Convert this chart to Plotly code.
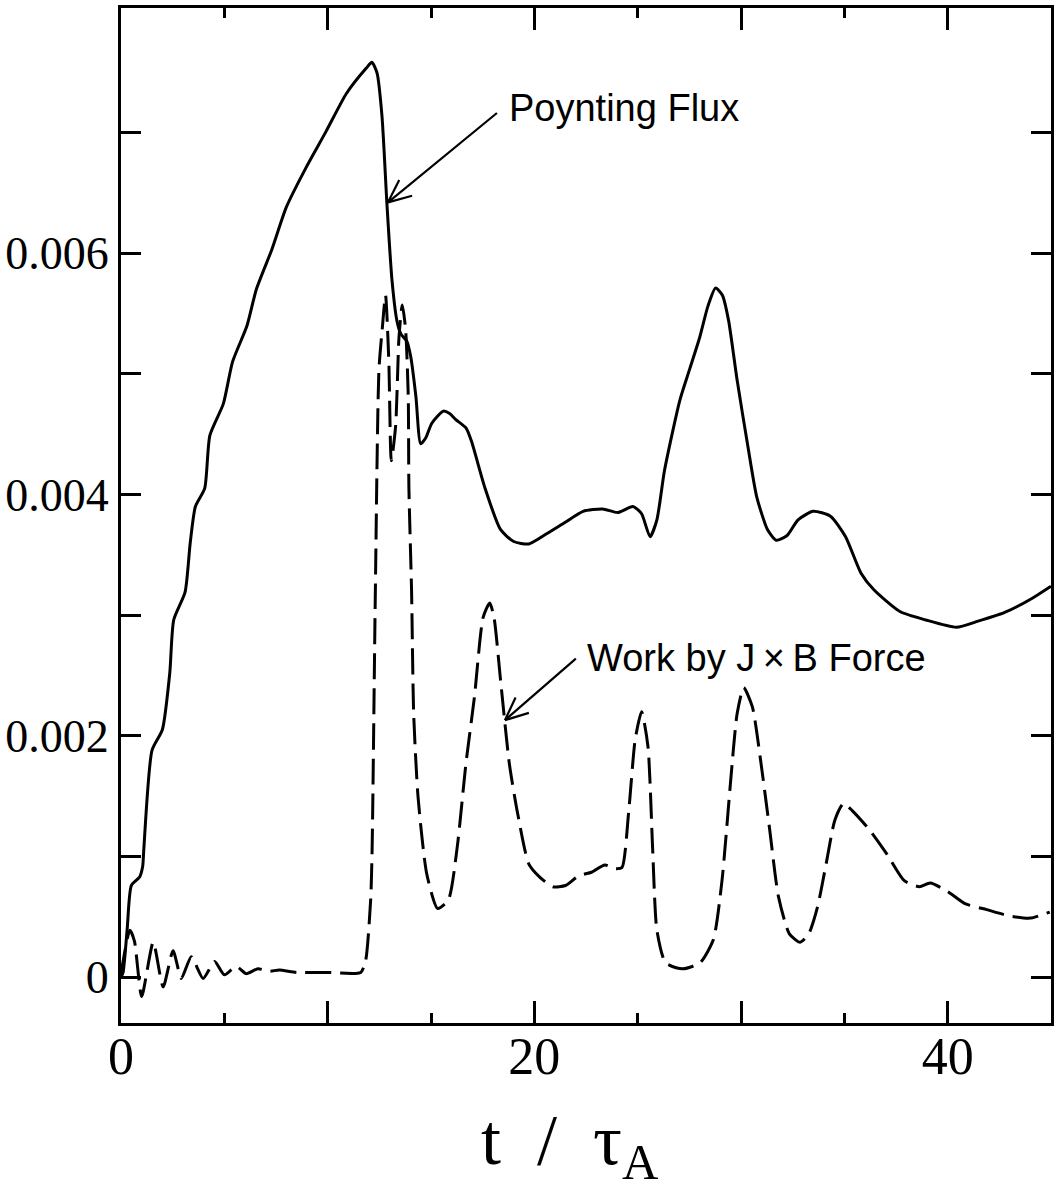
import math
import plotly.graph_objects as go

# ---------------- data ----------------
poynting_t = [0.0, 0.1, 0.3, 0.5, 0.9, 1.05, 1.1, 1.5, 2.0, 2.36, 2.55, 3.1, 3.35, 3.6,
              4.05, 4.3, 4.95, 5.4, 6.1, 6.55, 7.3, 8.0, 8.96, 9.93, 10.9, 11.86, 12.14,
              12.39, 12.63, 12.87, 13.11, 13.35, 13.54, 13.83, 14.02, 14.27, 14.5, 14.75,
              15.04, 15.6, 15.9, 16.2, 16.7, 16.96, 17.6, 18.36, 19.0, 19.73, 20.46, 21.5,
              22.36, 23.3, 24.04, 24.77, 25.19, 25.6, 25.93, 26.3, 27.04, 27.5, 28.0, 28.4,
              28.77, 29.1, 29.4, 29.81, 30.34, 30.76, 31.28, 31.71, 32.23, 32.76, 33.49,
              34.33, 35.06, 35.8, 36.43, 37.69, 38.94, 40.42, 41.47, 42.73, 43.99, 45.0]
poynting_v = [0.0, 0.00004, 0.0004, 0.00076, 0.00083, 0.00092, 0.00105, 0.00188, 0.00205,
              0.00252, 0.00296, 0.00319, 0.0036, 0.0039, 0.00405, 0.00449, 0.00475, 0.0051,
              0.0054, 0.0057, 0.00603, 0.00638, 0.00671, 0.00701, 0.00732, 0.00753, 0.00758,
              0.00749, 0.00713, 0.0064, 0.00578, 0.00544, 0.00533, 0.00527, 0.00514, 0.00481,
              0.00442, 0.00447, 0.00459, 0.00469, 0.00467, 0.00462, 0.00455, 0.00444, 0.00406,
              0.00371, 0.00361, 0.00359, 0.00366, 0.00377, 0.00386, 0.00388, 0.00385, 0.0039,
              0.00384, 0.00365, 0.00379, 0.0042, 0.00478, 0.00503, 0.0053, 0.00556, 0.00571,
              0.00565, 0.00544, 0.00495, 0.00439, 0.00398, 0.00371, 0.00362, 0.00366, 0.00379,
              0.00386, 0.00382, 0.00365, 0.00335, 0.00321, 0.00303, 0.00296, 0.0029, 0.00295,
              0.00302, 0.00313, 0.00324]

work_t = [0.0, 0.43, 0.65, 1.0, 1.56, 2.04, 2.52, 2.92, 3.4, 3.97, 4.53, 5.0, 5.58, 6.06,
          6.62, 7.18, 7.66, 8.5, 10.0, 11.6, 11.84, 12.08, 12.15, 12.3, 12.48, 12.64, 12.8,
          12.96, 13.08, 13.29, 13.45, 13.61, 13.77, 13.9, 13.93, 14.06, 14.16, 14.37, 14.79,
          15.32, 15.84, 16.27, 16.69, 17.1, 17.52, 17.84, 18.05, 18.36, 18.79, 19.2, 19.73,
          20.26, 20.89, 21.51, 22.14, 22.77, 23.41, 23.93, 24.24, 24.56, 24.88, 25.19, 25.5,
          25.72, 25.93, 26.35, 27.18, 28.02, 28.66, 29.08, 29.5, 29.81, 30.13, 30.55, 30.97,
          31.39, 31.81, 32.34, 32.86, 33.28, 33.7, 34.12, 34.54, 34.96, 35.38, 36.22, 37.06,
          37.9, 38.64, 39.16, 40.0, 40.84, 41.89, 42.94, 43.99, 44.94]
work_v = [0.00003, 0.00039, 0.0003, -0.00016, 0.00029, -0.00008, 0.00022, -0.00001, 0.00017,
          -0.00001, 0.00013, 0.00002, 0.00009, 0.00003, 0.00007, 0.00005, 0.00006, 0.00004,
          0.00004, 0.00004, 0.00014, 0.00064, 0.00105, 0.0031, 0.00503, 0.00537, 0.00565,
          0.0051, 0.00428, 0.00457, 0.0053, 0.00557, 0.00537, 0.00481, 0.00406, 0.0032,
          0.00219, 0.0015, 0.00086, 0.00057, 0.00064, 0.00108, 0.00177, 0.00232, 0.00298,
          0.0031, 0.00298, 0.00247, 0.00177, 0.00135, 0.00094, 0.00083, 0.00075, 0.00076,
          0.00084, 0.00087, 0.00093, 0.0009, 0.00091, 0.00136, 0.00197, 0.0022, 0.00191,
          0.00108, 0.00039, 0.00012, 0.00007, 0.00012, 0.00031, 0.0008, 0.00163, 0.00218,
          0.0024, 0.00224, 0.00177, 0.00122, 0.00067, 0.00036, 0.00029, 0.00036, 0.00058,
          0.00094, 0.0013, 0.00144, 0.00138, 0.00122, 0.00102, 0.0008, 0.00075, 0.00078,
          0.00071, 0.00061, 0.00056, 0.00051, 0.00049, 0.00054]

x_label_ticks = [0, 20, 40]
x_label_text = ["0", "20", "40"]
x_long_ticks = [10, 30]
x_short_ticks = [5, 15, 25, 35]
y_label_ticks = [0, 0.002, 0.004, 0.006]
y_label_text = ["0", "0.002", "0.004", "0.006"]
y_plain_ticks = [0.001, 0.003, 0.005, 0.007]

label_poynting = "Poynting Flux"
label_work = "Work by J\u2009×\u2009B Force"
x_title = "t  /  τ<sub>A</sub>"
# annotation anchor points (data units): arrow head, arrow tail
poynting_head = (12.92, 0.00642)
poynting_tail = (18.19, 0.00716)
work_head = (18.58, 0.00213)
work_tail = (22.01, 0.00264)

X_RANGE = [0, 45]
Y_RANGE = [-0.000379, 0.00803]
W, H = 1061, 1191
M = dict(l=121, r=10, t=8, b=168)

SERIF = "Liberation Serif, Times New Roman, serif"
SANS = "Liberation Sans, Arial, sans-serif"

fig = go.Figure()
fig.add_trace(go.Scatter(x=poynting_t, y=poynting_v, mode="lines",
                         line=dict(color="black", width=3, shape="spline", smoothing=0.6),
                         showlegend=False, hoverinfo="skip"))
# dashed series drawn on the overlaid x axis (same range) that carries the 5-unit ticks
fig.add_trace(go.Scatter(x=work_t, y=work_v, mode="lines", xaxis="x2", yaxis="y",
                         line=dict(color="black", width=3, dash="26px,9px",
                                   shape="spline", smoothing=0.6),
                         showlegend=False, hoverinfo="skip"))

# open V arrows drawn as line shapes (wings computed in pixel space)
sx = (W - M["l"] - M["r"]) / (X_RANGE[1] - X_RANGE[0])
sy = (H - M["t"] - M["b"]) / (Y_RANGE[1] - Y_RANGE[0])
WING_LEN, WING_ANG = 25, math.radians(24)
for head, tail in [(poynting_head, poynting_tail), (work_head, work_tail)]:
    fig.add_shape(type="line", x0=tail[0], y0=tail[1], x1=head[0], y1=head[1],
                  xref="x", yref="y", line=dict(color="black", width=2.2))
    ang = math.atan2((tail[1] - head[1]) * sy, (tail[0] - head[0]) * sx)
    for s in (-1, 1):
        a = ang + s * WING_ANG
        wx = head[0] + WING_LEN * math.cos(a) / sx
        wy = head[1] + WING_LEN * math.sin(a) / sy
        fig.add_shape(type="line", x0=head[0], y0=head[1], x1=wx, y1=wy,
                      xref="x", yref="y", line=dict(color="black", width=2.2))

# labels
fig.add_annotation(x=poynting_tail[0], y=poynting_tail[1], xref="x", yref="y",
                   text=label_poynting, showarrow=False, xanchor="left", yanchor="middle",
                   xshift=10, yshift=5, font=dict(family=SANS, size=38, color="black"))
fig.add_annotation(x=work_tail[0], y=work_tail[1], xref="x", yref="y",
                   text=label_work, showarrow=False, xanchor="left", yanchor="middle",
                   xshift=9, yshift=1, font=dict(family=SANS, size=38, color="black"))
# x-axis title (placed as paper annotation so it can sit slightly left of centre)
fig.add_annotation(x=(570 - M["l"]) / (W - M["l"] - M["r"]), y=-0.0739,
                   xref="paper", yref="paper", text=x_title, showarrow=False,
                   xanchor="center", yanchor="top",
                   font=dict(family=SERIF, size=72, color="black"))

axis_common = dict(showline=True, linecolor="black", linewidth=3, mirror="allticks",
                   ticks="inside", tickcolor="black", tickwidth=2.5, showgrid=False,
                   zeroline=False, automargin=False)

fig.update_xaxes(range=X_RANGE, tickmode="array", tickvals=x_label_ticks,
                 ticktext=x_label_text, ticklen=22, ticklabelstandoff=-14,
                 tickfont=dict(family=SERIF, size=52, color="black"),
                 minor=dict(tickmode="array", tickvals=x_long_ticks, ticklen=22,
                            ticks="inside", tickwidth=2.5, tickcolor="black"),
                 selector=dict(anchor="y", overlaying=None) if False else None,
                 **axis_common)
fig.update_yaxes(range=Y_RANGE, tickmode="array", tickvals=y_label_ticks,
                 ticktext=y_label_text, ticklen=20,
                 minor=dict(tickmode="array", tickvals=y_plain_ticks, ticklen=20,
                            ticks="inside", tickwidth=2.5, tickcolor="black"),
                 tickfont=dict(family=SERIF, size=46, color="black"), **axis_common)

# second x axis, identical range, only for the short 5-unit ticks (bottom and top)
fig.update_layout(xaxis2=dict(overlaying="x", anchor="y", side="bottom", range=X_RANGE,
                              tickmode="array", tickvals=x_short_ticks, ticks="inside",
                              ticklen=10, tickwidth=2.5, tickcolor="black",
                              showticklabels=False, showline=True, linecolor="black",
                              linewidth=3, mirror="allticks",
                              showgrid=False, zeroline=False, automargin=False))

fig.update_layout(width=W, height=H, paper_bgcolor="white", plot_bgcolor="white",
                  margin=M, showlegend=False)

fig.write_html("out.html", config={"displayModeBar": False},
               post_script="document.body.style.margin='0';document.body.style.overflow='hidden';")
